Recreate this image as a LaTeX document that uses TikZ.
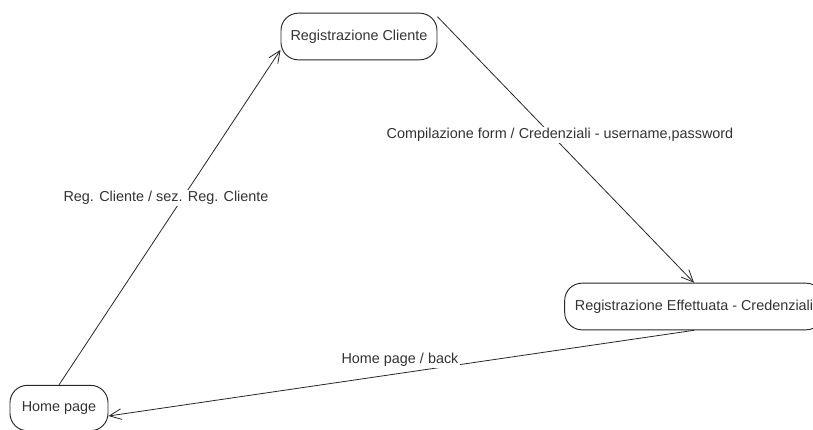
\documentclass[tikz,border=0pt]{standalone}
\usepackage{fontspec}
\setmainfont{Liberation Sans}
\usepackage{xcolor}
\usepackage{tikz}
\usetikzlibrary{arrows.meta}

\begin{document}
\begin{tikzpicture}[x=0.75pt, y=-0.75pt,
    state/.style={draw=black!85, line width=0.7pt, rounded corners=13pt, text=black!80,
        font=\fontsize{10.8}{13}\selectfont, inner sep=0pt},
    trans/.style={draw=black!85, line width=0.6pt, -{Straight Barb[length=9pt, width=8pt]}},
    lbl/.style={fill=white, text=black!80, inner sep=1pt, font=\fontsize{10.8}{13}\selectfont}]
    % Page
    \useasboundingbox (0,0) rectangle (813,429);

    % States
    \node[state, minimum width=117pt, minimum height=35pt] (regcli) at (359,36.5) {Registrazione Cliente};
    \node[state, minimum width=194pt, minimum height=35pt] (regeff) at (694,306.5) {Registrazione Effettuata - Credenziali};
    \node[state, minimum width=73.5pt, minimum height=34pt] (home) at (59,408) {Home page};

    % Transitions
    \draw[trans] (home.north) -- ([yshift=-10pt]regcli.west);
    \draw[trans] ([yshift=-3pt]regcli.north east) -- (regeff.north);
    \draw[trans] (regeff.south) -- ([yshift=-6pt]home.east);

    % Labels
    \node[lbl] (lblreg) at (166,198) {Reg. Cliente / sez. Reg. Cliente};
    \node[lbl] (lblcomp) at (560,135) {Compilazione form / Credenziali - username,password};
    \node[lbl] (lblback) at (400,360) {Home page / back};
\end{tikzpicture}
\end{document}
